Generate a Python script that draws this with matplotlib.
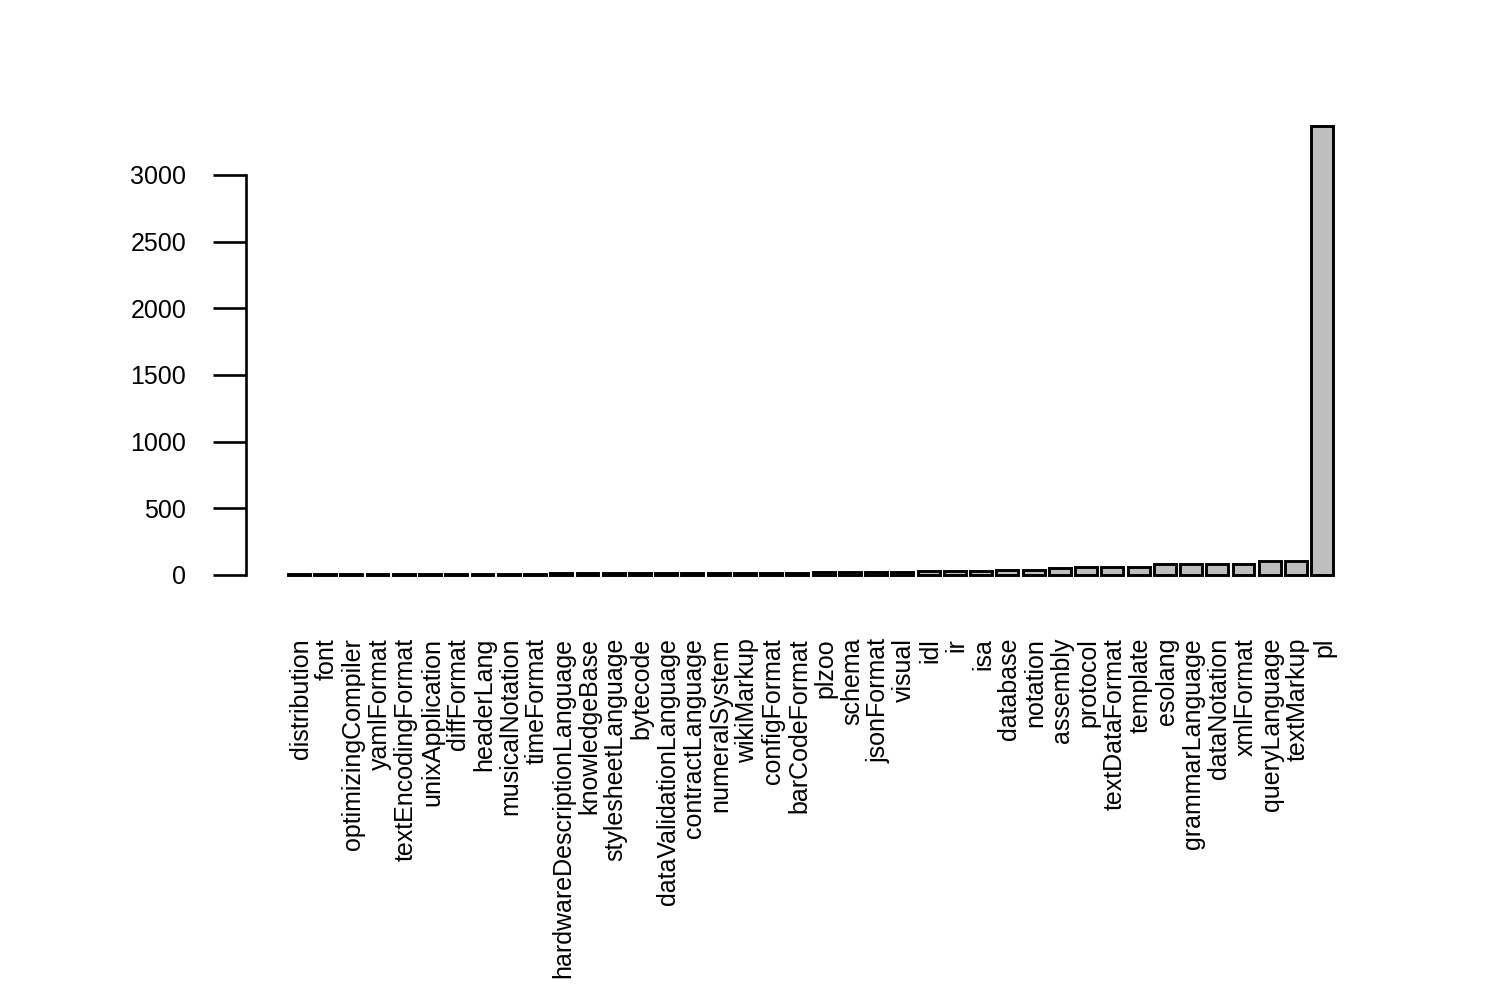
import matplotlib
matplotlib.use("Agg")
import matplotlib.pyplot as plt
from matplotlib.transforms import offset_copy

categories = ["distribution", "font", "optimizingCompiler", "yamlFormat", "textEncodingFormat",
              "unixApplication", "diffFormat", "headerLang", "musicalNotation", "timeFormat",
              "hardwareDescriptionLanguage", "knowledgeBase", "stylesheetLanguage", "bytecode",
              "dataValidationLanguage", "contractLanguage", "numeralSystem", "wikiMarkup",
              "configFormat", "barCodeFormat", "plzoo", "schema", "jsonFormat", "visual",
              "idl", "ir", "isa", "database", "notation", "assembly", "protocol",
              "textDataFormat", "template", "esolang", "grammarLanguage", "dataNotation",
              "xmlFormat", "queryLanguage", "textMarkup", "pl"]
values = [4, 4, 4, 4, 4, 4, 4, 4, 4, 4,
          12, 12, 12, 12, 12, 12, 12, 12, 12, 12,
          20, 20, 20, 20, 27, 27, 27, 38, 38, 50, 60,
          60, 60, 80, 80, 80, 80, 105, 105, 3367]
yticks = [0, 500, 1000, 1500, 2000, 2500, 3000]

plt.rcParams['font.family'] = ['Liberation Sans', 'DejaVu Sans']
fig = plt.figure(figsize=(15, 10.05), dpi=100)
ax = fig.add_axes([0.164, 0.410, 0.9167 - 0.164, 0.8925 - 0.410])

n = len(values)
lefts = [0.2 + 1.2 * i for i in range(n)]
centers = [l + 0.5 for l in lefts]
ax.bar(centers, values, width=1.0, color='#BEBEBE', edgecolor='black', linewidth=2.1)

xmin, xmax = 0.2, 1.2 * n
ext = 0.04 * (xmax - xmin)
ax.set_xlim(xmin - ext, xmax + ext)
ymax = max(values)
ax.set_ylim(-0.04 * ymax, ymax * 1.04)

for s in ['top', 'right', 'bottom']:
    ax.spines[s].set_visible(False)
ax.spines['left'].set_bounds(yticks[0], yticks[-1])
ax.spines['left'].set_linewidth(1.9)
ax.set_yticks(yticks)
ax.set_yticklabels([str(v) for v in yticks], fontsize=18)
ax.tick_params(axis='y', length=24, width=1.9, pad=19)

ax.set_xticks([])
trans = offset_copy(ax.get_xaxis_transform(), fig=fig, x=2, y=-45, units='dots')
for c, lab in zip(centers, categories):
    ax.text(c, 0, lab, rotation=90, ha='center', va='top', fontsize=18, transform=trans)

fig.savefig("out.png", dpi=100)
